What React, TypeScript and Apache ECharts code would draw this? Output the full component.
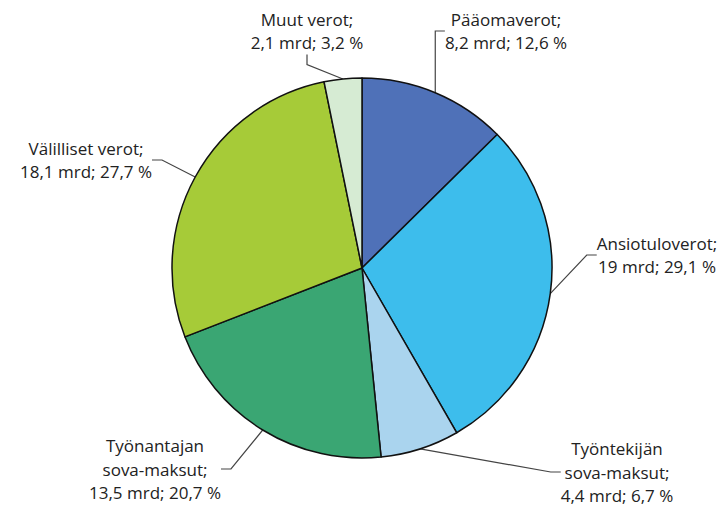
import React, { useEffect, useRef } from "react";
import * as echarts from "echarts";

const categories = [
  "Pääomaverot",
  "Ansiotuloverot",
  "Työntekijän\nsova-maksut",
  "Työnantajan\nsova-maksut",
  "Välilliset verot",
  "Muut verot",
];
const amountLabels = ["8,2", "19", "4,4", "13,5", "18,1", "2,1"];
const percentLabels = ["12,6", "29,1", "6,7", "20,7", "27,7", "3,2"];
const values = [12.6, 29.1, 6.7, 20.7, 27.7, 3.2];
const colors = ["#4f71b8", "#3dbdec", "#aad4ee", "#3aa673", "#a6cb38", "#d6ebd3"];

// label centre positions (layout only)
const labelPos: [number, number][] = [
  [506, 31],
  [657, 255],
  [617, 472],
  [155, 469],
  [86, 160],
  [307, 31],
];

export default function App() {
  const ref = useRef<HTMLDivElement>(null);
  useEffect(() => {
    if (!ref.current) return;
    const chart = echarts.init(ref.current, null, { renderer: "svg" });
    chart.setOption({
      animation: false,
      backgroundColor: "#ffffff",
      series: [
        {
          type: "pie",
          center: [362, 268],
          radius: [0, 190],
          startAngle: 90,
          clockwise: true,
          data: values.map((v, i) => ({
            value: v,
            name: categories[i],
            itemStyle: { color: colors[i] },
          })),
          itemStyle: { borderColor: "#111", borderWidth: 1.5 },
          label: {
            show: true,
            formatter: (p: any) =>
              `${categories[p.dataIndex]};\n${amountLabels[p.dataIndex]} mrd; ${percentLabels[p.dataIndex]} %`,
            fontFamily: "Open Sans",
            fontSize: 17,
            fontWeight: 500,
            lineHeight: 23.5,
            color: "#222",
            align: "center",
          },
          labelLine: {
            show: true,
            length: 10,
            length2: 10,
            lineStyle: { color: "#444", width: 1.2 },
          },
          labelLayout: (params: any) => {
            const [x, y] = labelPos[params.dataIndex];
            return { x, y, align: "center", verticalAlign: "middle" };
          },
        },
      ],
    });
    return () => chart.dispose();
  }, []);
  return (
    <div
      ref={ref}
      style={{ position: "fixed", left: 0, top: 0, width: 727, height: 509 }}
    />
  );
}
